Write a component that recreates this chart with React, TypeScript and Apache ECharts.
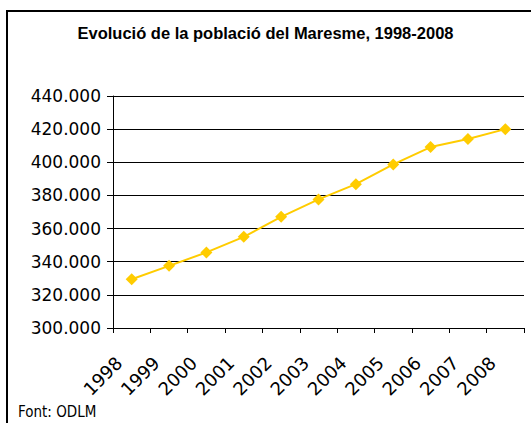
import React, { useEffect, useRef } from "react";
import * as echarts from "echarts";

const titleText = "Evolució de la població del Maresme, 1998-2008";
const sourceText = "Font: ODLM";
const years = ["1998", "1999", "2000", "2001", "2002", "2003", "2004", "2005", "2006", "2007", "2008"];
const population = [329400, 337500, 345600, 355000, 367100, 377600, 386800, 398700, 409200, 414000, 420000];
const yMin = 300000;
const yMax = 440000;
const yStep = 20000;

function fmt(v: number): string {
  return String(Math.round(v)).replace(/\B(?=(\d{3})+(?!\d))/g, ".");
}

export default function App() {
  const ref = useRef<HTMLDivElement>(null);
  useEffect(() => {
    if (!ref.current) return;
    const chart = echarts.init(ref.current, undefined, { renderer: "svg" });
    chart.setOption({
      animation: false,
      backgroundColor: "#ffffff",
      title: {
        text: titleText,
        left: "center",
        top: 19,
        textStyle: { fontFamily: "Liberation Sans", fontWeight: "bold", fontSize: 16.5, color: "#000" },
      },
      grid: { left: 113, right: 7, top: 96, bottom: 95, containLabel: false },
      xAxis: {
        type: "category",
        data: years,
        boundaryGap: true,
        axisLine: { show: true, lineStyle: { color: "#000", width: 1 } },
        axisTick: { show: true, length: 5, inside: false, lineStyle: { color: "#000" } },
        axisLabel: {
          rotate: 45,
          margin: 19,
          padding: [0, 18, 0, 0],
          fontFamily: "DejaVu Sans",
          fontSize: 18,
          color: "#000",
          interval: 0,
        },
        splitLine: { show: false },
      },
      yAxis: {
        type: "value",
        min: yMin,
        max: yMax,
        interval: yStep,
        axisLine: { show: true, lineStyle: { color: "#000", width: 1 } },
        axisTick: { show: true, length: 6, lineStyle: { color: "#000" } },
        axisLabel: {
          margin: 12,
          fontFamily: "DejaVu Sans",
          fontSize: 17,
          color: "#000",
          formatter: (v: number) => fmt(v),
        },
        splitLine: { show: true, lineStyle: { color: "#000", width: 1 } },
      },
      series: [
        {
          type: "line",
          data: population,
          symbol: "diamond",
          symbolSize: 12,
          lineStyle: { color: "#FFCC00", width: 2 },
          itemStyle: { color: "#FFCC00" },
        },
      ],
      graphic: [
        {
          type: "rect",
          shape: { x: 7, y: 11, width: 600, height: 500 },
          style: { fill: "none", stroke: "#000", lineWidth: 2 },
          silent: true,
        },
        {
          type: "text",
          x: 18,
          y: 412,
          style: {
            text: sourceText,
            fontFamily: "DejaVu Sans Condensed",
            fontSize: 15,
            fill: "#000",
            verticalAlign: "middle",
            align: "left",
          },
        },
      ],
    });
    return () => chart.dispose();
  }, []);
  return (
    <div
      ref={ref}
      style={{ position: "fixed", left: 0, top: 0, width: 531, height: 423 }}
    />
  );
}
